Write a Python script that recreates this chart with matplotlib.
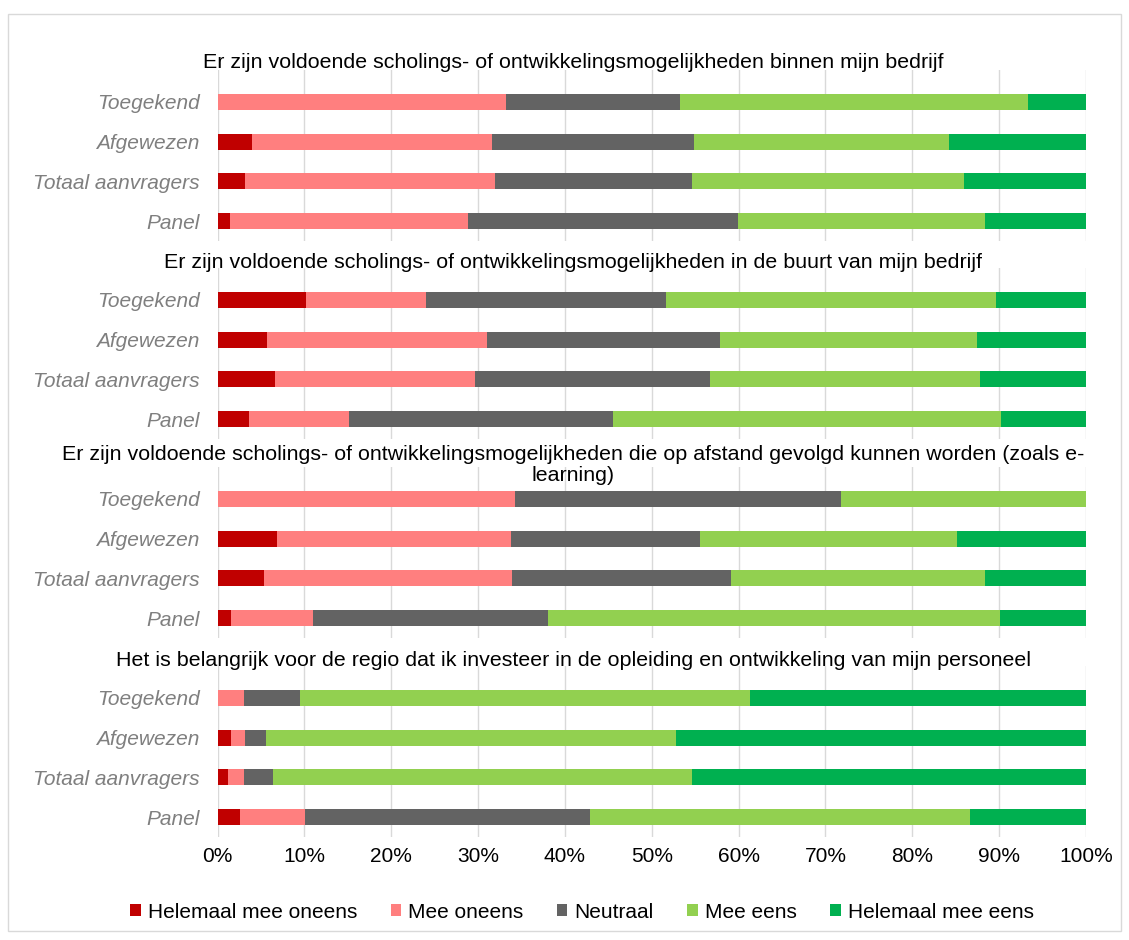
import matplotlib
matplotlib.use("Agg")
import matplotlib.pyplot as plt
from matplotlib.patches import Rectangle
import numpy as np

plt.rcParams['font.family'] = ['Liberation Sans', 'DejaVu Sans']

titles = [
    "Er zijn voldoende scholings- of ontwikkelingsmogelijkheden binnen mijn bedrijf",
    "Er zijn voldoende scholings- of ontwikkelingsmogelijkheden in de buurt van mijn bedrijf",
    "Er zijn voldoende scholings- of ontwikkelingsmogelijkheden die op afstand gevolgd kunnen worden (zoals e-\nlearning)",
    "Het is belangrijk voor de regio dat ik investeer in de opleiding en ontwikkeling van mijn personeel",
]
categories = ["Toegekend", "Afgewezen", "Totaal aanvragers", "Panel"]
series_names = ["Helemaal mee oneens", "Mee oneens", "Neutraal", "Mee eens", "Helemaal mee eens"]
colors = ["#C00000", "#FF7F7F", "#636363", "#92D050", "#00B050"]

# values per group (rows: Toegekend, Afgewezen, Totaal aanvragers, Panel), in %
helemaal_oneens = [[0.0, 4.0, 3.2, 1.4],
                   [10.2, 5.7, 6.6, 3.6],
                   [0.0, 6.9, 5.3, 1.5],
                   [0.0, 1.5, 1.2, 2.6]]
mee_oneens = [[33.2, 27.6, 28.7, 27.5],
              [13.8, 25.3, 23.1, 11.5],
              [34.3, 26.9, 28.6, 9.5],
              [3.1, 1.7, 1.9, 7.5]]
neutraal = [[20.0, 23.3, 22.7, 31.0],
            [27.6, 26.9, 27.0, 30.4],
            [37.5, 21.8, 25.2, 27.0],
            [6.4, 2.4, 3.3, 32.8]]
mee_eens = [[40.1, 29.3, 31.4, 28.5],
            [38.0, 29.5, 31.1, 44.7],
            [28.2, 29.6, 29.3, 52.1],
            [51.8, 47.2, 48.2, 43.7]]
helemaal_eens = [[6.7, 15.8, 14.0, 11.6],
                 [10.4, 12.6, 12.2, 9.8],
                 [0.0, 14.8, 11.6, 9.9],
                 [38.7, 47.2, 45.4, 13.4]]
all_series = [helemaal_oneens, mee_oneens, neutraal, mee_eens, helemaal_eens]
xticks = [0, 10, 20, 30, 40, 50, 60, 70, 80, 90, 100]
xticklabels = [f"{t}%" for t in xticks]

W, H = 1129, 940
FS = 15
FS_TITLE = 15.4
fig = plt.figure(figsize=(W / 100, H / 100), dpi=100)

# outer frame
fig.patches.append(Rectangle((8 / W, 1 - 931 / H), (1121 - 8) / W, (931 - 14) / H,
                             transform=fig.transFigure, fill=False,
                             edgecolor="#D9D9D9", linewidth=1.0))

left_px, right_px = 217.5, 1086
ax_tops = [70, 268, 467, 666]
ax_h = 171
title_y = [[62], [262], [454, 476], [661]]

for g in range(4):
    top = ax_tops[g]
    ax = fig.add_axes([left_px / W, 1 - (top + ax_h) / H, (right_px - left_px) / W, ax_h / H])
    y = np.arange(len(categories))
    left = np.zeros(len(categories))
    for s, name in enumerate(series_names):
        vals = np.array(all_series[s][g])
        ax.barh(y, vals, left=left, height=0.4, color=colors[s], label=name, zorder=3)
        left += vals
    ax.set_xlim(0, 100)
    ax.set_ylim(3.5, -0.8)
    ax.set_yticks(y)
    ax.set_yticklabels(categories, fontsize=FS, style="italic", color="#7F7F7F")
    ax.tick_params(axis="y", length=0, pad=13)
    ax.set_xticks(xticks)
    ax.grid(axis="x", color="#D9D9D9", linewidth=1.0, zorder=0)
    for sp in ax.spines.values():
        sp.set_visible(False)
    if g == 3:
        ax.set_xticklabels(xticklabels, fontsize=FS)
        ax.tick_params(axis="x", length=0, pad=7)
    else:
        ax.tick_params(axis="x", length=0, labelbottom=False)
    lines = titles[g].split("\n")
    for line, ty in zip(lines, title_y[g]):
        fig.text(573 / W, 1 - ty / H, line, ha="center", va="center", fontsize=FS_TITLE, color="black")
    if g == 3:
        handles, labels = ax.get_legend_handles_labels()

fig.legend(handles, labels, loc="center", bbox_to_anchor=(582 / W, 1 - 912 / H), ncol=5,
           frameon=False, fontsize=FS, handlelength=0.5, handleheight=0.5,
           columnspacing=1.6, handletextpad=0.35)

fig.savefig("out.png", dpi=100)
